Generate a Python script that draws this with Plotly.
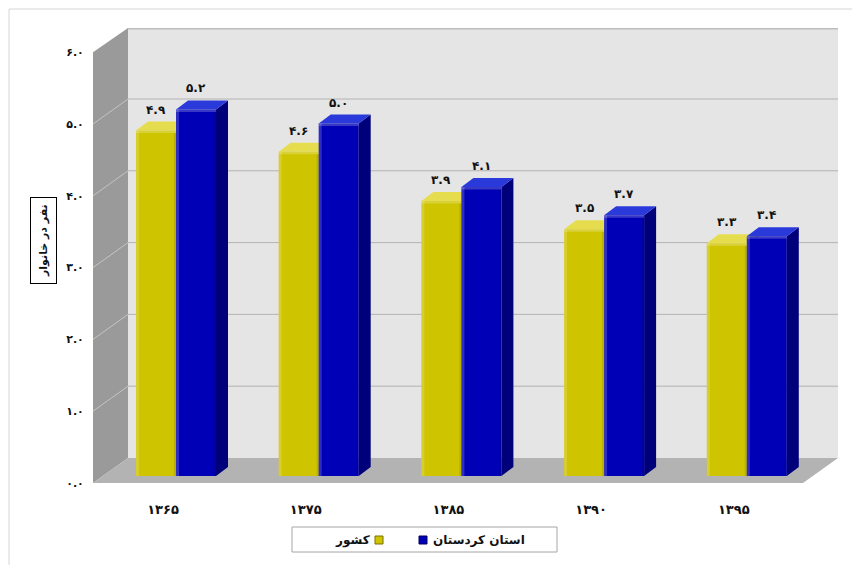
import plotly.graph_objects as go

# ---- data -------------------------------------------------------------
years = ["1365", "1375", "1385", "1390", "1395"]
country = [4.9, 4.6, 3.9, 3.5, 3.3]          # کشور
kurdistan = [5.2, 5.0, 4.1, 3.7, 3.4]        # استان کردستان
y_ticks = [0, 1, 2, 3, 4, 5, 6]

series_names = ["کشور", "استان کردستان"]
y_title = "نفر در خانوار"

FA_DIGITS = str.maketrans("0123456789", "۰۱۲۳۴۵۶۷۸۹")


def fa(text):
    return str(text).translate(FA_DIGITS)


# ---- layout geometry (pixels) -----------------------------------------
W, H = 852, 565
L, R, T, B = 93, 838, 28, 483          # plot area
DEPTH_X, DEPTH_Y = 35, 25              # oblique depth of the walls
FRONT_K = 71.8                         # px per unit on the front plane
BAR_K = 70.5                           # px per unit on the bar plane
BAR_ZERO = 476                         # px of value 0 on the bar plane
CAT0, CAT_STEP = 176, 142.7            # bar-plane category centres
LABEL_SHIFT = -13                      # front-plane shift of category labels
BAR_PX = 40                            # width of one bar
BAR_DX, BAR_DY = 12, 9                 # bar depth

x_lo = (L - CAT0) / CAT_STEP
x_hi = (R - CAT0) / CAT_STEP
y_lo = (BAR_ZERO - B) / BAR_K
y_hi = (BAR_ZERO - T) / BAR_K
bar_w = BAR_PX / CAT_STEP
dxu = BAR_DX / CAT_STEP
dyu = BAR_DY / BAR_K
hl_x = 3 / CAT_STEP                    # highlight strip width
hl_y = 2.5 / BAR_K                     # highlight strip height

YELLOW, YELLOW_TOP, YELLOW_SIDE = "#CFC400", "#E6DD4E", "#9E9600"
BLUE, BLUE_TOP, BLUE_SIDE = "#0000B6", "#2A3ADA", "#00007A"

FONT = "DejaVu Sans"


def px(x, y):
    """pixel -> paper coordinates"""
    return (x - L) / (R - L), (B - y) / (B - T)


def poly(points):
    pts = [px(x, y) for x, y in points]
    return "M " + " L ".join(f"{a:.5f},{b:.5f}" for a, b in pts) + " Z"


shapes = []

# outer frame (top and left edges visible)
fx0, fy0 = px(9, 9)
fx1, fy1 = px(W + 20, H + 20)
shapes.append(dict(type="rect", xref="paper", yref="paper", x0=fx0, y0=fy1,
                   x1=fx1, y1=fy0, line=dict(color="#D6D6D6", width=1),
                   fillcolor="rgba(0,0,0,0)", layer="below"))

# back wall
shapes.append(dict(type="path", xref="paper", yref="paper",
                   path=poly([(L + DEPTH_X, T), (R, T), (R, B - DEPTH_Y),
                              (L + DEPTH_X, B - DEPTH_Y)]),
                   fillcolor="#E5E5E5", line=dict(width=0), layer="below"))
# back wall top edge
shapes.append(dict(type="path", xref="paper", yref="paper",
                   path=poly([(L + DEPTH_X, T), (R, T), (R, T + 1.5), (L + DEPTH_X, T + 1.5)]),
                   fillcolor="#BDBDBD", line=dict(width=0), layer="below"))
# left wall
shapes.append(dict(type="path", xref="paper", yref="paper",
                   path=poly([(L, B), (L, B - FRONT_K * 6), (L + DEPTH_X, T),
                              (L + DEPTH_X, B - DEPTH_Y)]),
                   fillcolor="#9A9A9A", line=dict(width=0), layer="below"))
# floor
shapes.append(dict(type="path", xref="paper", yref="paper",
                   path=poly([(L, B), (L + DEPTH_X, B - DEPTH_Y), (R, B - DEPTH_Y),
                              (R - DEPTH_X, B)]),
                   fillcolor="#B3B3B3", line=dict(width=0), layer="below"))

# gridlines on the back and left walls
for t in y_ticks[1:-1]:
    yf = B - FRONT_K * t
    yb = yf - DEPTH_Y
    x0, y0 = px(L + DEPTH_X, yb)
    x1, _ = px(R, yb)
    shapes.append(dict(type="line", xref="paper", yref="paper", x0=x0, y0=y0,
                       x1=x1, y1=y0, line=dict(color="#B3B3B3", width=1), layer="below"))
    a0, b0 = px(L, yf)
    a1, b1 = px(L + DEPTH_X, yb)
    shapes.append(dict(type="line", xref="paper", yref="paper", x0=a0, y0=b0,
                       x1=a1, y1=b1, line=dict(color="#C4C4C4", width=1), layer="below"))

# 3D faces of the bars (top and right side), built from the values
annotations = []
for i in range(len(years)):
    for j, (vals, top_c, side_c) in enumerate([(country, YELLOW_TOP, YELLOW_SIDE),
                                                (kurdistan, BLUE_TOP, BLUE_SIDE)]):
        v = vals[i]
        x0 = i - bar_w + j * bar_w
        x1 = x0 + bar_w
        side = (f"M {x1},0 L {x1 + dxu},{dyu} L {x1 + dxu},{v + dyu} "
                f"L {x1},{v} Z")
        top = (f"M {x0},{v} L {x1},{v} L {x1 + dxu},{v + dyu} "
               f"L {x0 + dxu},{v + dyu} Z")
        shapes.append(dict(type="path", xref="x", yref="y", path=side,
                           fillcolor=side_c, line=dict(width=0), layer="below"))
        shapes.append(dict(type="path", xref="x", yref="y", path=top,
                           fillcolor=top_c, line=dict(width=0), layer="below"))
        # soft bevel highlights on the front face
        shapes.append(dict(type="rect", xref="x", yref="y", x0=x0, x1=x0 + hl_x,
                           y0=0, y1=v, fillcolor="rgba(255,255,255,0.18)",
                           line=dict(width=0), layer="above"))
        shapes.append(dict(type="rect", xref="x", yref="y", x0=x0, x1=x1,
                           y0=v - hl_y, y1=v, fillcolor="rgba(255,255,255,0.22)",
                           line=dict(width=0), layer="above"))
        shapes.append(dict(type="rect", xref="x", yref="y", x0=x1 - hl_x * 0.7, x1=x1,
                           y0=0, y1=v - hl_y, fillcolor="rgba(0,0,0,0.10)",
                           line=dict(width=0), layer="above"))
        annotations.append(dict(x=(x0 + x1) / 2, y=v + dyu, xref="x", yref="y",
                                text=f"<b>{fa(f'{v:.1f}')}</b>", showarrow=False,
                                xanchor="center", yanchor="bottom", yshift=3,
                                font=dict(family=FONT, size=12, color="#111111")))

fig = go.Figure()
fig.add_trace(go.Bar(x=list(range(len(years))), y=country, name=series_names[0],
                     marker=dict(color=YELLOW, line=dict(width=0)),
                     xaxis="x", yaxis="y", hoverinfo="skip"))
fig.add_trace(go.Bar(x=list(range(len(years))), y=kurdistan, name=series_names[1],
                     marker=dict(color=BLUE, line=dict(width=0)),
                     xaxis="x", yaxis="y", hoverinfo="skip"))

# y-axis title in a box
tx, ty = px(43, 241)
annotations.append(dict(x=tx, y=ty, xref="paper", yref="paper", text=f"<b>{y_title}</b>",
                        textangle=-90, showarrow=False, xanchor="center", yanchor="middle",
                        font=dict(family=FONT, size=11, color="#111111"),
                        bordercolor="#000000", borderwidth=1, borderpad=6,
                        bgcolor="#FFFFFF"))

# legend
lx0, ly0 = px(292, 527)
lx1, ly1 = px(557, 552)
shapes.append(dict(type="rect", xref="paper", yref="paper", x0=lx0, y0=ly1, x1=lx1,
                   y1=ly0, line=dict(color="#A6A6A6", width=1), fillcolor="#FFFFFF",
                   layer="above"))
for (sx, col, edge) in [(375, YELLOW, "#7A7300"), (419, BLUE, "#00005A")]:
    a0, b0 = px(sx, 536)
    a1, b1 = px(sx + 8, 544)
    shapes.append(dict(type="rect", xref="paper", yref="paper", x0=a0, y0=b1, x1=a1,
                       y1=b0, fillcolor=col, line=dict(color=edge, width=1),
                       layer="above"))
ax, ay = px(372, 540)
annotations.append(dict(x=ax, y=ay, xref="paper", yref="paper",
                        text=f"<b>{series_names[0]}</b>", showarrow=False,
                        xanchor="right", yanchor="middle",
                        font=dict(family=FONT, size=12, color="#111111")))
ax, ay = px(431, 540)
annotations.append(dict(x=ax, y=ay, xref="paper", yref="paper",
                        text=f"<b>{series_names[1]}</b>", showarrow=False,
                        xanchor="left", yanchor="middle",
                        font=dict(family=FONT, size=12, color="#111111")))

shift_u = LABEL_SHIFT / CAT_STEP
fig.update_layout(
    width=W, height=H,
    margin=dict(l=L, r=W - R, t=T, b=H - B, pad=0),
    paper_bgcolor="#FFFFFF", plot_bgcolor="rgba(0,0,0,0)",
    barmode="group", bargap=1 - 2 * bar_w, bargroupgap=0,
    showlegend=False,
    xaxis=dict(range=[x_lo, x_hi], showgrid=False, zeroline=False,
               showticklabels=False, showline=False, fixedrange=True),
    xaxis2=dict(range=[x_lo - shift_u, x_hi - shift_u], overlaying="x", side="bottom",
                anchor="y", tickvals=list(range(len(years))),
                ticktext=[f"<b>{fa(y)}</b>" for y in years],
                ticks="outside", ticklen=14, tickcolor="rgba(0,0,0,0)",
                tickfont=dict(family=FONT, size=13, color="#111111"),
                showgrid=False, zeroline=False, showline=False),
    yaxis=dict(range=[y_lo, y_hi], showgrid=False, zeroline=False,
               showticklabels=False, showline=False),
    yaxis2=dict(range=[0, (B - T) / FRONT_K], overlaying="y", side="left", anchor="x",
                tickvals=y_ticks, ticktext=[f"<b>{fa(f'{t:.1f}')}</b>" for t in y_ticks],
                ticks="outside", ticklen=6, tickcolor="rgba(0,0,0,0)",
                tickfont=dict(family=FONT, size=11, color="#111111"),
                showgrid=False, zeroline=False, showline=False),
    shapes=shapes, annotations=annotations,
)
# empty trace so the front-plane axes are drawn
fig.add_trace(go.Scatter(x=[None], y=[None], xaxis="x2", yaxis="y2", showlegend=False))

fig.write_html("out.html")
